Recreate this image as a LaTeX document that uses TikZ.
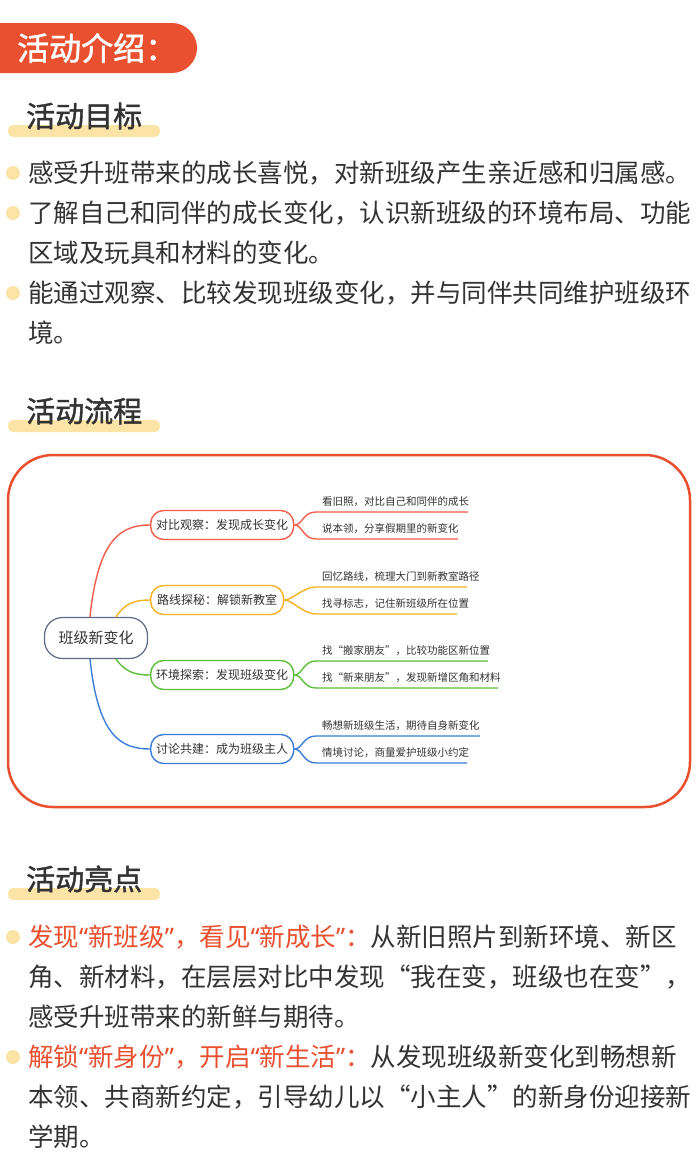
\documentclass[tikz,border=0pt]{standalone}
\usepackage{fontspec}
\setmainfont{Noto Sans CJK SC}
\newfontfamily\cjkbold[FakeBold=1.5]{Noto Sans CJK SC}
\newfontfamily\latinfont{Noto Sans}
\newcommand\lt[1]{{\latinfont #1}}
\definecolor{hdred}{HTML}{E8502F}
\definecolor{hlyellow}{HTML}{FCE4A6}
\definecolor{txtgray}{HTML}{333333}
\definecolor{mred}{HTML}{F25C4B}
\definecolor{morange}{HTML}{F7B21C}
\definecolor{mgreen}{HTML}{5DBE3A}
\definecolor{mblue}{HTML}{3B7DD8}
\definecolor{mroot}{HTML}{5A6A85}
\usetikzlibrary{positioning}

\tikzset{
  body/.style={anchor=west, inner sep=0pt, text=txtgray, font=\fontsize{25.5}{25.5}\selectfont},
  dot/.style={circle, fill=hlyellow, minimum size=14pt, inner sep=0pt},
  sechead/.style={anchor=west, inner sep=0pt, text=txtgray, font=\cjkbold\fontsize{29}{29}\selectfont},
  branch/.style={draw=#1, line width=1.4pt, rounded corners=13pt, minimum height=29pt,
    anchor=west, inner sep=0pt, text=black!80, font=\fontsize{12}{12}\selectfont},
  leaf/.style={anchor=south west, inner sep=0pt, text=black!80, font=\fontsize{10.5}{10.5}\selectfont},
  link/.style={draw=#1, line width=1.4pt}
}

\begin{document}
\begin{tikzpicture}[x=1pt,y=-1pt]
  \useasboundingbox[fill=white] (0,0) rectangle (700,1175);

  % title tab
  \begin{scope}
    \clip (0,0) rectangle (700,1175);
    \fill[hdred, rounded corners=25pt] (-40,23) rectangle (197,73);
  \end{scope}
  \node[anchor=west, inner sep=0pt, text=white, font=\cjkbold\fontsize{32}{32}\selectfont] (title) at (17,48) {活动介绍：};

  % goals
  \fill[hlyellow, rounded corners=5pt] (8,125) rectangle (160,137);
  \node[sechead] (goalhead) at (26,116) {活动目标};
  \foreach \y in {173,213,293} \node[dot] at (13,\y) {};
  \node[body] (g1) at (28,173) {感受升班带来的成长喜悦，对新班级产生亲近感和归属感。};
  \node[body] (g2) at (28,213) {了解自己和同伴的成长变化，认识新班级的环境布局、功能};
  \node[body] (g2b) at (28,253) {区域及玩具和材料的变化。};
  \node[body] (g3) at (28,293) {能通过观察、比较发现班级变化，并与同伴共同维护班级环};
  \node[body] (g3b) at (28,333) {境。};

  % process
  \fill[hlyellow, rounded corners=5pt] (8,420) rectangle (160,432);
  \node[sechead] (flowhead) at (26,411) {活动流程};
  \draw[hdred, line width=2.5pt, rounded corners=45pt] (8,455) rectangle (690,807);

  \node[draw=mroot, line width=1.2pt, rounded corners=18pt, minimum width=103pt, minimum height=41pt,
    inner sep=0pt, font=\fontsize{15}{15}\selectfont, text=black!80] (root) at (96,638) {班级新变化};

  \node[branch=mred, minimum width=143pt] (b1) at (150,525) {对比观察：发现成长变化};
  \node[branch=morange, minimum width=133pt] (b2) at (150,600) {路线探秘：解锁新教室};
  \node[branch=mgreen, minimum width=143pt] (b3) at (150,675) {环境探索：发现班级变化};
  \node[branch=mblue, minimum width=143pt] (b4) at (150,749) {讨论共建：成为班级主人};

  \draw[link=mred] (90,617) .. controls (98,540) and (120,525) .. (b1.west);
  \draw[link=morange] (116,617) .. controls (125,603) and (135,600) .. (b2.west);
  \draw[link=mgreen] (116,659) .. controls (125,672) and (135,675) .. (b3.west);
  \draw[link=mblue] (90,659) .. controls (98,735) and (120,749) .. (b4.west);

  % leaves
  \foreach \b/\c/\ya/\yb/\ea/\eb/\ta/\tb in {
    b1/mred/512/539/468/458/看旧照，对比自己和同伴的成长/说本领，分享假期里的新变化,
    b2/morange/587/614/467/457/回忆路线，梳理大门到新教室路径/找寻标志，记住新班级所在位置,
    b3/mgreen/661/688/488/498/找“搬家朋友”，比较功能区新位置/找“新来朋友”，发现新增区角和材料,
    b4/mblue/736/763/480/467/畅想新班级生活，期待自身新变化/情境讨论，商量爱护班级小约定} {
    \coordinate (\b a) at (\ea,\ya);
    \coordinate (\b b) at (\eb,\yb);
    \draw[link=\c] (\b.east) .. controls ([xshift=8pt]\b.east) and (303,\ya) .. (316,\ya) -- (\b a);
    \draw[link=\c] (\b.east) .. controls ([xshift=8pt]\b.east) and (303,\yb) .. (316,\yb) -- (\b b);
    \node[leaf] at (322,\ya-5) {\ta};
    \node[leaf] at (322,\yb-5) {\tb};
  }

  % highlights
  \fill[hlyellow, rounded corners=5pt] (8,888) rectangle (160,900);
  \node[sechead] (highhead) at (26,879) {活动亮点};
  \foreach \y in {937,1057} \node[dot] at (13,\y) {};
  \node[body] (h1) at (28,937) {\textcolor{hdred}{发现\lt{“}新班级\lt{”}，看见\lt{“}新成长\lt{”}：}从新旧照片到新环境、新区};
  \node[body] (h1b) at (28,977) {角、新材料，在层层对比中发现“我在变，班级也在变”，};
  \node[body] (h1c) at (28,1017) {感受升班带来的新鲜与期待。};
  \node[body] (h2) at (28,1057) {\textcolor{hdred}{解锁\lt{“}新身份\lt{”}，开启\lt{“}新生活\lt{”}：}从发现班级新变化到畅想新};
  \node[body] (h2b) at (28,1097) {本领、共商新约定，引导幼儿以“小主人”的新身份迎接新};
  \node[body] (h2c) at (28,1137) {学期。};
\end{tikzpicture}
\end{document}
